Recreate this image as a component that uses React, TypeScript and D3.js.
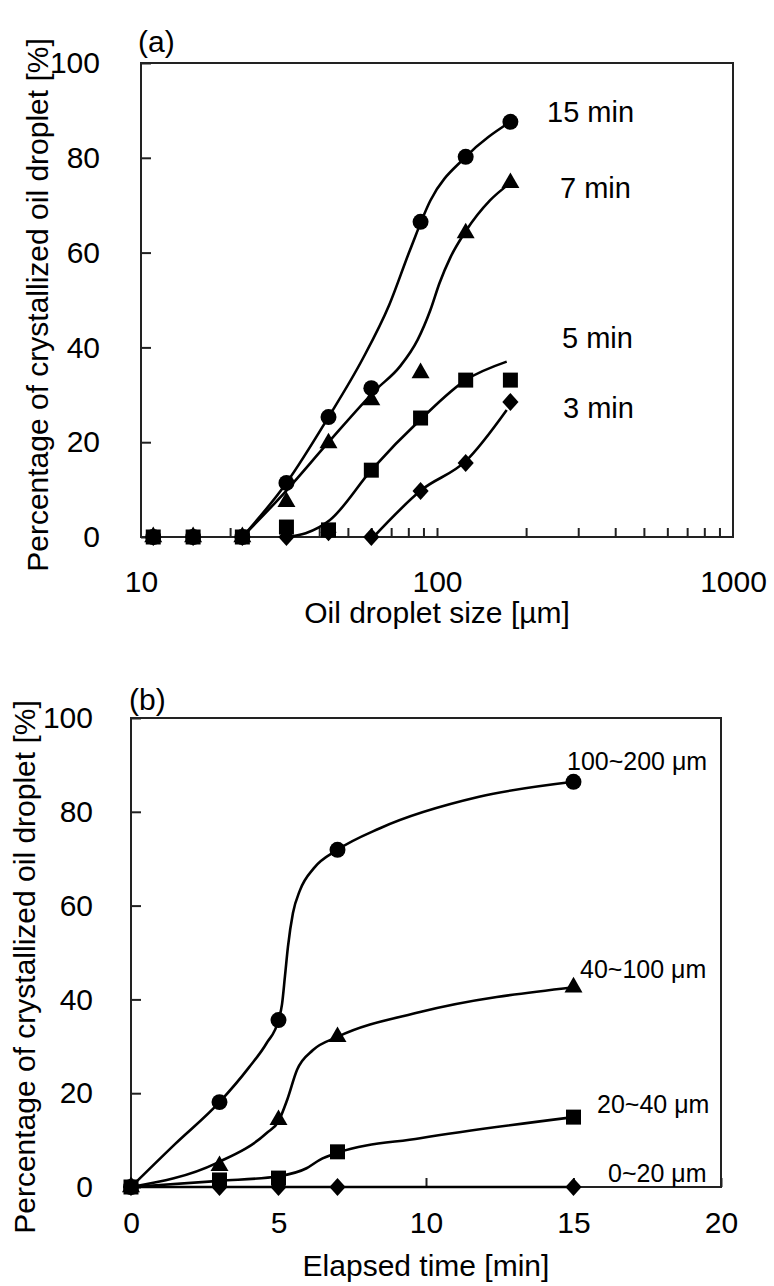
import * as d3 from 'd3';
import { useEffect, useRef } from 'react';

// (a) crystallized fraction vs droplet size, one series per elapsed time
const dropletSizes = [11, 15, 22, 31, 43, 60, 88, 125, 177];
const pct15min = [0, 0, 0, 11.4, 25.3, 31.4, 66.5, 80.2, 87.6];
const pct7min = [0, 0, 0, 7.4, 19.8, 28.9, 34.6, 64.1, 74.7];
const pct5min = [0, 0, 0, 2.1, 1.5, 14.1, 25.1, 33.1, 33.1];
const pct3min = [0, 0, 0, 0, 1, 0, 9.7, 15.6, 28.5];

// hand-drawn fit curves in (a)
const fit15Size = [22, 31, 43, 56, 69, 81, 95, 125, 177];
const fit15Pct = [0, 11.4, 25.3, 37.5, 49, 60.5, 71, 80.2, 87.6];
const fit7Size = [22, 31, 43, 62, 75, 86, 95, 102, 111, 125, 151, 177];
const fit7Pct = [0, 9.8, 20, 31, 36, 41.6, 47.9, 53.6, 59, 64.5, 71, 74.7];
const fit5Size = [31, 36, 43.5, 60, 89, 125, 172];
const fit5Pct = [0, 0.8, 3.6, 14.1, 25.1, 33.1, 37];
const fit3Size = [61, 89, 125, 172];
const fit3Pct = [0, 10, 16, 26.8];

// (b) crystallized fraction vs elapsed time, one series per size class
const elapsedMin = [0, 3, 5, 7, 15];
const pct100to200 = [0, 18.1, 35.6, 71.9, 86.4];
const pct40to100 = [0, 4.5, 14.3, 32, 42.6];
const pct20to40 = [0, 1.5, 1.9, 7.5, 14.9];
const pct0to20 = [0, 0, 0, 0, 0];

const fit100Time = [0, 1.5, 3, 4, 4.6, 5, 5.12, 5.22, 5.32, 5.49, 5.73, 6.2, 7, 8.44, 11.8, 15];
const fit100Pct = [0, 9.2, 18.1, 25.5, 30.7, 35.6, 39, 45, 51.2, 58.4, 63.3, 68, 71.9, 76.5, 83.2, 86.4];
const fit40Time = [0, 2.9, 4.6, 5, 5.29, 5.63, 6.17, 7, 9.8, 15];
const fit40Pct = [0, 5.1, 11.5, 14, 18.5, 25, 29.2, 32, 37.3, 42.6];
const fit20Time = [0, 3, 5, 5.95, 6.4, 7, 9.8, 15];
const fit20Pct = [0, 1.3, 2.3, 4, 5.8, 7.3, 10.4, 14.9];
const fit0Time = [0, 15];
const fit0Pct = [0, 0];

const labelsA = ['15 min', '7 min', '5 min', '3 min'];
const labelsB = ['100~200 μm', '40~100 μm', '20~40 μm', '0~20 μm'];

const FONT = '"Liberation Sans", Arial, sans-serif';

const diamondSymbol = {
  draw(ctx: any, size: number) {
    const h = Math.sqrt(size) * 0.62;
    const w = h * 0.9;
    ctx.moveTo(0, -h);
    ctx.lineTo(w, 0);
    ctx.lineTo(0, h);
    ctx.lineTo(-w, 0);
    ctx.closePath();
  },
};

const markerTypes = [
  { type: d3.symbolCircle, size: 200 },
  { type: d3.symbolTriangle, size: 140 },
  { type: d3.symbolSquare, size: 225 },
  { type: diamondSymbol, size: 210 },
];

export default function App() {
  const svgRef = useRef<SVGSVGElement>(null);

  useEffect(() => {
    const svg = d3.select(svgRef.current);
    svg.selectAll('*').remove();

    // ---------- panel (a) ----------
    const xA = d3.scaleLog().domain([10, 1000]).range([141, 733]);
    const yA = d3.scaleLinear().domain([0, 100]).range([537, 63]);
    const gA = svg.append('g');

    gA.append('rect')
      .attr('x', 141).attr('y', 63)
      .attr('width', 733 - 141).attr('height', 537 - 63)
      .attr('fill', 'white').attr('stroke', '#222').attr('stroke-width', 2);

    const minorA: number[] = [];
    [10, 100].forEach(d => { for (let k = 2; k <= 9; k++) minorA.push(d * k); });
    minorA.push(100);

    gA.append('g')
      .attr('transform', 'translate(0,537)')
      .call(d3.axisBottom(xA).tickValues(minorA).tickSize(-9).tickFormat(() => ''))
      .call(g => g.select('.domain').remove())
      .call(g => g.selectAll('line').attr('stroke', '#222').attr('stroke-width', 2));

    gA.append('g')
      .attr('transform', 'translate(0,537)')
      .call(d3.axisBottom(xA).tickValues([10, 100, 1000]).tickSize(0).tickPadding(34).tickFormat(d3.format('d')))
      .call(g => g.select('.domain').remove())
      .call(g => g.selectAll('text').attr('font-size', 30).attr('font-family', FONT).attr('fill', '#000'));

    gA.append('g')
      .attr('transform', 'translate(141,0)')
      .call(d3.axisLeft(yA).tickValues([0, 20, 40, 60, 80, 100]).tickSize(-10).tickPadding(41))
      .call(g => g.select('.domain').remove())
      .call(g => g.selectAll('line').attr('stroke', '#222').attr('stroke-width', 2))
      .call(g => g.selectAll('text').attr('font-size', 30).attr('font-family', FONT).attr('fill', '#000'));

    const lineA = d3.line<[number, number]>()
      .x(d => xA(d[0])).y(d => yA(d[1]))
      .curve(d3.curveMonotoneX);

    const fitsA = [
      [fit15Size, fit15Pct],
      [fit7Size, fit7Pct],
      [fit5Size, fit5Pct],
      [fit3Size, fit3Pct],
    ];
    fitsA.forEach(([xs, ys]) => {
      gA.append('path')
        .attr('d', lineA(xs.map((x, i) => [x, ys[i]] as [number, number])))
        .attr('fill', 'none').attr('stroke', '#000').attr('stroke-width', 2.6);
    });

    const seriesA = [pct15min, pct7min, pct5min, pct3min];
    // draw from the bottom layer up: diamonds first, circles on top
    [3, 2, 1, 0].forEach(s => {
      const m = markerTypes[s];
      gA.append('g').selectAll('path')
        .data(dropletSizes.map((x, i) => [x, seriesA[s][i]]))
        .enter().append('path')
        .attr('transform', d => `translate(${xA(d[0])},${yA(d[1])})`)
        .attr('d', d3.symbol(m.type as any, m.size) as any)
        .attr('fill', '#000');
    });

    const labelPosA = [[547, 122], [560, 198], [562, 348], [563, 418]];
    labelsA.forEach((t, i) => {
      gA.append('text')
        .attr('x', labelPosA[i][0]).attr('y', labelPosA[i][1])
        .attr('font-size', 29).attr('font-family', FONT)
        .text(t);
    });

    gA.append('text')
      .attr('x', 138).attr('y', 52)
      .attr('font-size', 30).attr('font-family', FONT)
      .text('(a)');

    gA.append('text')
      .attr('x', 437).attr('y', 623)
      .attr('text-anchor', 'middle')
      .attr('font-size', 30).attr('font-family', FONT)
      .text('Oil droplet size [µm]');

    gA.append('text')
      .attr('transform', 'translate(37,305) rotate(-90)')
      .attr('text-anchor', 'middle').attr('dominant-baseline', 'central')
      .attr('font-size', 30).attr('font-family', FONT)
      .text('Percentage of crystallized oil droplet [%]');

    // ---------- panel (b) ----------
    const xB = d3.scaleLinear().domain([0, 20]).range([131, 721]);
    const yB = d3.scaleLinear().domain([0, 100]).range([1187, 718]);
    const gB = svg.append('g');

    gB.append('rect')
      .attr('x', 131).attr('y', 718)
      .attr('width', 721 - 131).attr('height', 1187 - 718)
      .attr('fill', 'white').attr('stroke', '#222').attr('stroke-width', 2);

    gB.append('g')
      .attr('transform', 'translate(0,1187)')
      .call(d3.axisBottom(xB).tickValues([0, 5, 10, 15, 20]).tickSize(-9).tickPadding(25))
      .call(g => g.select('.domain').remove())
      .call(g => g.selectAll('line').attr('stroke', '#222').attr('stroke-width', 2))
      .call(g => g.selectAll('text').attr('font-size', 30).attr('font-family', FONT).attr('fill', '#000'));

    gB.append('g')
      .attr('transform', 'translate(131,0)')
      .call(d3.axisLeft(yB).tickValues([0, 20, 40, 60, 80, 100]).tickSize(-10).tickPadding(38))
      .call(g => g.select('.domain').remove())
      .call(g => g.selectAll('line').attr('stroke', '#222').attr('stroke-width', 2))
      .call(g => g.selectAll('text').attr('font-size', 30).attr('font-family', FONT).attr('fill', '#000'));

    const lineB = d3.line<[number, number]>()
      .x(d => xB(d[0])).y(d => yB(d[1]))
      .curve(d3.curveMonotoneX);

    const fitsB = [
      [fit100Time, fit100Pct],
      [fit40Time, fit40Pct],
      [fit20Time, fit20Pct],
      [fit0Time, fit0Pct],
    ];
    fitsB.forEach(([xs, ys]) => {
      gB.append('path')
        .attr('d', lineB(xs.map((x, i) => [x, ys[i]] as [number, number])))
        .attr('fill', 'none').attr('stroke', '#000').attr('stroke-width', 2.6);
    });

    const seriesB = [pct100to200, pct40to100, pct20to40, pct0to20];
    [3, 2, 1, 0].forEach(s => {
      const m = markerTypes[s];
      gB.append('g').selectAll('path')
        .data(elapsedMin.map((x, i) => [x, seriesB[s][i]]))
        .enter().append('path')
        .attr('transform', d => `translate(${xB(d[0])},${yB(d[1])})`)
        .attr('d', d3.symbol(m.type as any, m.size) as any)
        .attr('fill', '#000');
    });

    const labelPosB = [[567, 770], [580, 978], [597, 1113], [608, 1182]];
    labelsB.forEach((t, i) => {
      gB.append('text')
        .attr('x', labelPosB[i][0]).attr('y', labelPosB[i][1])
        .attr('font-size', 25).attr('font-family', FONT)
        .text(t);
    });

    gB.append('text')
      .attr('x', 129).attr('y', 710)
      .attr('font-size', 30).attr('font-family', FONT)
      .text('(b)');

    gB.append('text')
      .attr('x', 426).attr('y', 1276)
      .attr('text-anchor', 'middle')
      .attr('font-size', 30).attr('font-family', FONT)
      .text('Elapsed time [min]');

    gB.append('text')
      .attr('transform', 'translate(24,967) rotate(-90)')
      .attr('text-anchor', 'middle').attr('dominant-baseline', 'central')
      .attr('font-size', 30).attr('font-family', FONT)
      .text('Percentage of crystallized oil droplet [%]');
  }, []);

  return (
    <svg
      ref={svgRef}
      width={774}
      height={1286}
      style={{ position: 'absolute', left: 0, top: 0, background: '#fff' }}
    />
  );
}
